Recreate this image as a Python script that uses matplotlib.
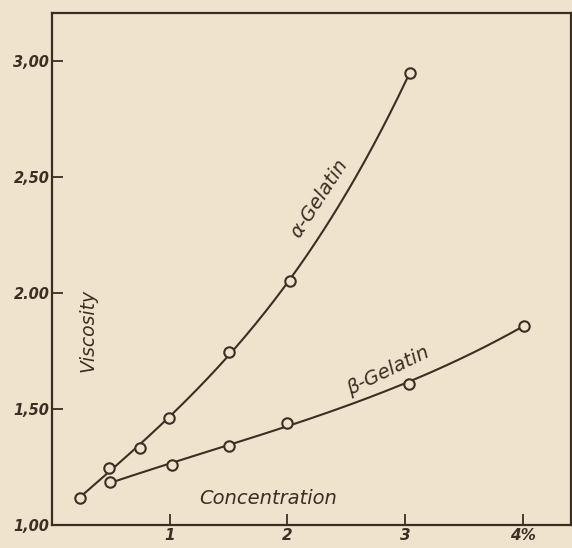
import numpy as np
import matplotlib.pyplot as plt

# values
alpha_conc = [0.24, 0.48, 0.75, 0.99, 1.50, 2.02, 3.04]
alpha_visc = [1.116, 1.246, 1.33, 1.46, 1.746, 2.05, 2.95]
beta_conc = [0.49, 1.02, 1.50, 2.00, 3.03, 4.01]
beta_visc = [1.185, 1.26, 1.34, 1.44, 1.61, 1.86]

yticks = [1.0, 1.5, 2.0, 2.5, 3.0]
ytick_labels = ['1,00', '1,50', '2.00', '2,50', '3,00']
xticks = [1, 2, 3, 4]
xtick_labels = ['1', '2', '3', '4%']

paper = '#efe3cd'
ink = '#3b2f24'
plt.rcParams['font.family'] = ['DejaVu Sans']

fig = plt.figure(figsize=(5.72, 5.48), dpi=100)
fig.patch.set_facecolor(paper)
ax = fig.add_axes([0.091, 0.042, 0.907, 0.934])
ax.set_facecolor(paper)

# smooth curves drawn through the measured points
for xs, ys in [(alpha_conc, alpha_visc), (beta_conc, beta_visc)]:
    coef = np.polyfit(xs, ys, 3)
    xx = np.linspace(min(xs), max(xs), 200)
    ax.plot(xx, np.polyval(coef, xx), color=ink, lw=1.5, zorder=2)
    ax.plot(xs, ys, 'o', ms=7.5, mfc=paper, mec=ink, mew=1.5, zorder=3)

ax.set_xlim(0, 4.41)
ax.set_ylim(1.0, 3.207)
ax.set_xticks(xticks)
ax.set_xticklabels(xtick_labels)
ax.set_yticks(yticks)
ax.set_yticklabels(ytick_labels)
ax.tick_params(direction='in', length=8, width=1.3, color=ink, labelcolor=ink,
               labelsize=10.5)
ax.tick_params(axis='x', pad=2.5, labelsize=11)
ax.tick_params(axis='y', pad=2)
for lab in ax.get_xticklabels() + ax.get_yticklabels():
    lab.set_style('oblique')
    lab.set_fontweight('bold')
for s in ax.spines.values():
    s.set_color(ink)
    s.set_linewidth(1.6)

ax.text(0.31, 1.84, 'Viscosity', rotation=90, ha='center', va='center',
        fontsize=13.5, color=ink, style='oblique')
ax.text(1.84, 1.116, 'Concentration', ha='center', va='center',
        fontsize=14, color=ink, style='oblique')
ax.text(2.27, 2.41, 'α-Gelatin', rotation=57, ha='center', va='center',
        fontsize=14, color=ink, style='oblique')
ax.text(2.86, 1.665, 'β-Gelatin', rotation=26, ha='center', va='center',
        fontsize=14, color=ink, style='oblique')

fig.savefig('out.png', dpi=100, facecolor=paper)
